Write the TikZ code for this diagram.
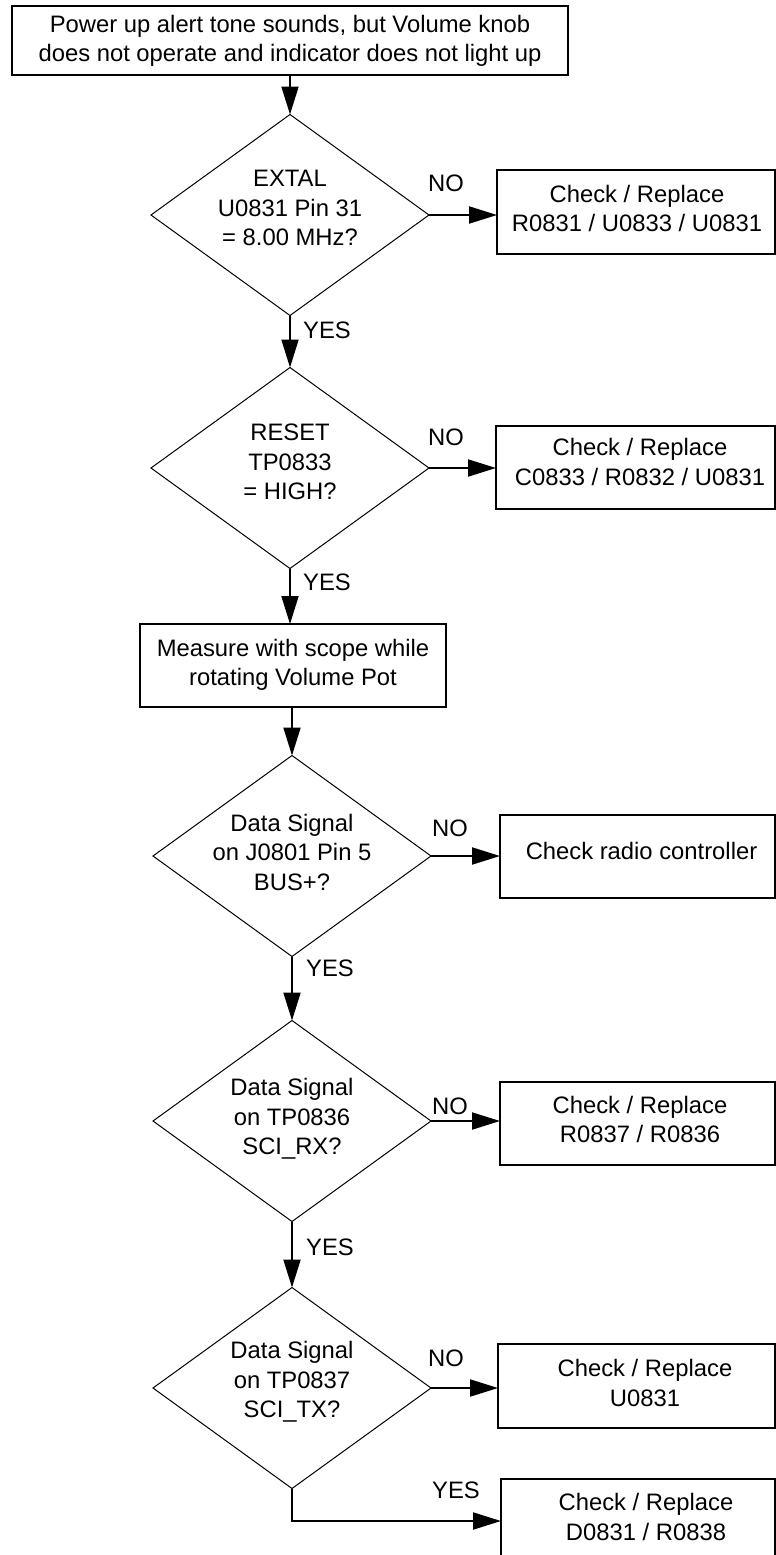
\documentclass[tikz,border=0pt]{standalone}
\usepackage{fontspec}
\setmainfont{Liberation Sans}
\usetikzlibrary{arrows.meta,shapes.geometric}
\begin{document}
\begin{tikzpicture}[x=1pt,y=-1pt,
  every node/.style={font=\fontsize{23.8}{29.5}\selectfont, inner sep=0pt, outer sep=0pt},
  box/.style={draw, line width=2pt, rectangle},
  dia/.style={draw, line width=1pt, diamond, minimum width=278pt, minimum height=201pt},
  txt/.style={align=center},
  flow/.style={line width=2pt, -{Triangle[length=28pt,width=17pt]}}]
\useasboundingbox (0,0) rectangle (776,1555);

% start box
\node[box, minimum width=556pt, minimum height=69pt] (top) at (290,40.5) {};
\node[txt] (topt) at (290,41) {Power up alert tone sounds, but Volume knob\\does not operate and indicator does not light up};

% decision 1
\node[dia] (d1) at (290,215) {};
\node[txt] (d1t) at (290,208) {EXTAL\\U0831 Pin 31\\= 8.00 MHz?};
\node (no1) at (446,183) {NO};
\node[box, minimum width=278pt, minimum height=84pt] (b1) at (636,212) {};
\node[txt] (b1t) at (637,208.5) {Check / Replace\\R0831 / U0833 / U0831};
\node (yes1) at (327,330) {YES};

% decision 2
\node[dia] (d2) at (290,468) {};
\node[txt] (d2t) at (290,462) {RESET\\TP0833\\= HIGH?};
\node (no2) at (446,437) {NO};
\node[box, minimum width=279pt, minimum height=83pt] (b2) at (635.5,467.5) {};
\node[txt] (b2t) at (640,462) {Check / Replace\\C0833 / R0832 / U0831};
\node (yes2) at (327,582) {YES};

% measure box
\node[box, minimum width=306pt, minimum height=83pt] (meas) at (293,665.5) {};
\node[txt] (meast) at (293,665) {Measure with scope while\\rotating Volume Pot};

% decision 3
\node[dia] (d3) at (292,856) {};
\node[txt] (d3t) at (292,852) {Data Signal\\on J0801 Pin 5\\BUS+?};
\node (no3) at (450,828) {NO};
\node[box, minimum width=275pt, minimum height=83pt] (b3) at (637.5,856.5) {};
\node[txt] (b3t) at (641.5,851) {Check radio controller};
\node (yes3) at (330,968) {YES};

% decision 4
\node[dia] (d4) at (292,1121) {};
\node[txt] (d4t) at (292,1119) {Data Signal\\on TP0836\\SCI\_RX?};
\node (no4) at (450,1106) {NO};
\node[box, minimum width=275pt, minimum height=83pt] (b4) at (637.5,1123.5) {};
\node[txt] (b4t) at (640,1119.5) {Check / Replace\\R0837 / R0836};
\node (yes4) at (330,1247) {YES};

% decision 5
\node[dia] (d5) at (292,1388) {};
\node[txt] (d5t) at (292,1382) {Data Signal\\on TP0837\\SCI\_TX?};
\node (no5) at (446,1358) {NO};
\node[box, minimum width=277pt, minimum height=84pt] (b5) at (636.5,1386) {};
\node[txt] (b5t) at (645,1383) {Check / Replace\\U0831};
\node (yes5) at (456,1490) {YES};
\node[box, minimum width=274pt, minimum height=101pt] (b6) at (638,1529.5) {};
\node[txt] (b6t) at (646,1517) {Check / Replace\\D0831 / R0838};
\coordinate (b6in) at (501,1521);

% connectors
\draw[flow] (top.south) -- (d1.north);
\draw[flow] (d1.east) -- (d1.east -| b1.west);
\draw[flow] (d1.south) -- (d2.north);
\draw[flow] (d2.east) -- (d2.east -| b2.west);
\draw[flow] (d2.south) -- (d2.south |- meas.north);
\draw[flow] (meas.south -| d3.north) -- (d3.north);
\draw[flow] (d3.east) -- (d3.east -| b3.west);
\draw[flow] (d3.south) -- (d4.north);
\draw[flow] (d4.east) -- (d4.east -| b4.west);
\draw[flow] (d4.south) -- (d5.north);
\draw[flow] (d5.east) -- (d5.east -| b5.west);
\draw[flow] (d5.south) |- (b6in);
\end{tikzpicture}
\end{document}
